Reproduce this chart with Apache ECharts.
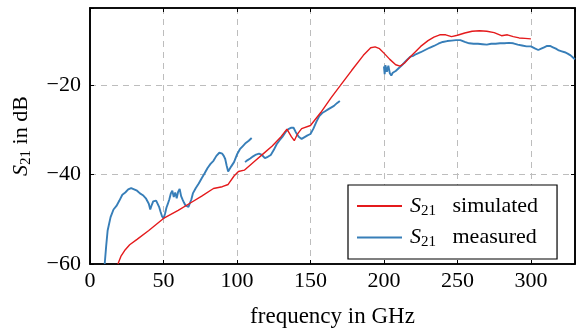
<!DOCTYPE html>
<html>
<head>
<meta charset="utf-8">
<script src="https://cdn.jsdelivr.net/npm/echarts@6/dist/echarts.min.js"></script>
<style>html,body{margin:0;padding:0;background:#fff}#c{width:583px;height:333px}</style>
</head>
<body>
<div id="c"></div>
<script>
const xTicks = [0, 50, 100, 150, 200, 250, 300];
const yTicks = [-60, -40, -20];

const simFreq = [19, 21, 24, 27, 32, 40, 50, 60, 68, 76, 84, 90, 94, 98, 101, 105, 112, 118, 124, 130, 134, 137, 139, 141, 144, 150, 157, 164, 170, 178, 186, 191, 194, 197, 200, 204, 208, 211, 214, 218, 225, 230, 234, 238, 242, 246, 250, 255, 260, 265, 270, 275, 280, 284, 288, 292, 296, 300];
const simVal = [-60, -58.3, -56.8, -55.7, -54.5, -52.5, -49.8, -48, -46.4, -44.8, -43.1, -42.7, -42.2, -40.3, -39.3, -39, -37, -35.3, -33.6, -31.5, -29.8, -31.5, -32.4, -31, -29.7, -29, -26.1, -22.8, -20.2, -16.7, -13.3, -11.6, -11.4, -11.8, -12.8, -14.2, -15.4, -15.7, -15, -13.6, -11.3, -10, -9.2, -8.7, -8.7, -9.1, -8.8, -8.3, -7.9, -7.8, -7.9, -8.2, -8.9, -8.7, -9.1, -9.4, -9.5, -9.6];

const measFreq = [
  10, 11, 12, 14, 16, 18, 20, 22, 24, 26, 28, 29, 30, 32, 34, 36, 37, 38, 39, 40, 41, 42, 43, 44, 45, 46, 47, 48, 49, 50, 51, 52, 53, 54, 55, 56, 57, 58, 59, 60, 61, 62, 63, 64, 65, 66, 67, 68, 69, 70, 72, 74, 76, 78, 80, 82, 84, 86, 88, 89, 90, 91, 92, 93, 94, 95, 96, 98, 100, 102, 104, 106, 108, 110,
  110.5,
  105.5, 107, 109, 111, 113, 115, 117, 119, 121, 123, 125, 127, 129, 131, 133, 135, 137, 138.5, 140, 142, 144, 146, 148, 150, 152, 154, 156, 158, 160, 162, 164, 166, 168, 170,
  185,
  200, 200.5, 201, 202, 203, 204, 205, 206, 208, 210, 212, 214, 216, 218, 220, 222, 225, 228, 231, 234, 237, 240, 243, 246, 249, 252, 255, 258, 261, 264, 267, 270, 273, 276, 279, 282, 285, 288, 291, 294, 297, 300, 303, 305, 307, 309, 311, 313, 315, 317, 319, 321, 323, 325, 327, 329, 330];
const measVal = [
  -60, -56, -52.5, -49.5, -47.8, -47, -45.8, -44.5, -44, -43.3, -43, -42.8, -43.3, -43.6, -44.2, -44.6, -44.3, -45.3, -45, -46.5, -47.8, -46.8, -46, -45.6, -45.8, -46.2, -47.2, -48.3, -49.3, -49.8, -48.8, -47.4, -46.5, -45.5, -44.2, -43.6, -45, -44, -45.3, -43.8, -43.2, -44.8, -45.6, -46.3, -46.9, -46.5, -47.2, -46.8, -45.5, -44.2, -43, -42, -40.8, -39.7, -38.5, -37.6, -36.9, -35.8, -35.1, -34.8, -35.3, -35.8, -36.5, -38, -39.3, -39, -38.2, -37.2, -35.5, -34.3, -33.6, -32.9, -32.4, -31.8,
  null,
  -37.2, -36.8, -36.4, -35.9, -35.5, -35.3, -35.6, -36.3, -36, -35.6, -34.5, -33.2, -32.3, -31.5, -30.5, -29.8, -29.5, -29.5, -30.5, -31.5, -32, -31.6, -31.2, -30.9, -29.7, -28.2, -26.9, -26.2, -25.8, -25.4, -25, -24.6, -24, -23.5,
  null,
  -15.8, -17.5, -15.5, -17, -15.6, -17.3, -17.8, -17.2, -16.8, -16.2, -15.6, -14.9, -14.2, -13.6, -13.4, -13, -12.6, -12.1, -11.6, -11.2, -10.7, -10.3, -10.1, -10, -9.9, -9.9, -10.3, -10.6, -10.7, -10.7, -10.8, -10.9, -10.7, -10.7, -10.6, -10.6, -10.5, -10.6, -10.9, -11.1, -11.3, -11.3, -11.8, -12.1, -11.8, -11.5, -11.2, -11.2, -11.5, -11.8, -12.2, -12.4, -12.6, -12.9, -13.3, -13.9, -14.2];

const FONT = 'Liberation Serif';
const zip = (a, b) => a.map((v, i) => [v, b[i]]);
const fmtNum = v => String(v).replace('-', '\u2212');
const rich = {
  i: { fontFamily: FONT, fontStyle: 'italic', fontSize: 22, color: '#000' },
  li: { fontFamily: FONT, fontStyle: 'italic', fontSize: 22, color: '#000', padding: [0, 0, 0, 3] },
  sub: { fontFamily: FONT, fontSize: 15, color: '#000', padding: [10, 0, 0, 0] },
  lsub: { fontFamily: FONT, fontSize: 15, color: '#000', padding: [10, 11, 0, 0] },
  t: { fontFamily: FONT, fontSize: 22, color: '#000' }
};
const tick = { show: true, inside: true, length: 4, lineStyle: { color: '#000', width: 1 } };
const frameLine = { show: true, onZero: false, lineStyle: { color: '#000', width: 1.6 } };
const grid = { type: [6, 5], color: '#bdbdbd', width: 1 };

const chart = echarts.init(document.getElementById('c'), null, { renderer: 'canvas' });
chart.setOption({
  animation: false,
  backgroundColor: '#fff',
  grid: { left: 90, right: 8, top: 8, bottom: 67, show: true, borderColor: '#000', borderWidth: 1.6, backgroundColor: 'transparent' },
  xAxis: [{
    type: 'value', min: 0, max: 330, interval: 50,
    name: 'frequency in GHz', nameLocation: 'middle', nameGap: 41,
    nameTextStyle: { fontFamily: FONT, fontSize: 23, color: '#000' },
    axisLine: frameLine, axisTick: tick,
    axisLabel: { fontFamily: FONT, fontSize: 22, color: '#000', margin: 6,
      formatter: v => xTicks.includes(v) ? fmtNum(v) : '' },
    splitLine: { show: true, showMinLine: false, showMaxLine: false, lineStyle: grid }
  }, {
    type: 'value', min: 0, max: 330, interval: 50, position: 'top',
    axisLine: frameLine, axisLabel: { show: false }, splitLine: { show: false }, axisTick: tick
  }],
  yAxis: [{
    type: 'value', min: -60, max: -2.7, interval: 20,
    name: '{i|S}{sub|21}{t| in dB}', nameLocation: 'middle', nameGap: 56, nameRotate: 90,
    nameTextStyle: { rich: rich },
    axisLine: frameLine, axisTick: tick,
    axisLabel: { fontFamily: FONT, fontSize: 22, color: '#000', margin: 9,
      formatter: v => yTicks.includes(v) ? fmtNum(v) : '' },
    splitLine: { show: true, showMinLine: false, showMaxLine: false, lineStyle: grid }
  }, {
    type: 'value', min: -60, max: -2.7, interval: 20, position: 'right',
    axisLine: frameLine, axisLabel: { show: false }, splitLine: { show: false }, axisTick: tick
  }],
  legend: {
    orient: 'vertical', left: 348, top: 185,
    padding: [10, 19, 9, 9], itemGap: 8,
    itemWidth: 45, itemHeight: 2, icon: 'rect',
    borderColor: '#000', borderWidth: 1.2, backgroundColor: '#fff',
    textStyle: { rich: rich },
    formatter: name => name === 'sim' ? '{li|S}{lsub|21}{t| simulated}' : '{li|S}{lsub|21}{t| measured}',
    data: ['sim', 'meas']
  },
  series: [{
    name: 'sim', type: 'line', symbol: 'none', data: zip(simFreq, simVal),
    lineStyle: { color: '#e41a1c', width: 1.4 }, itemStyle: { color: '#e41a1c' }, z: 3
  }, {
    name: 'meas', type: 'line', symbol: 'none', connectNulls: false, data: zip(measFreq, measVal),
    lineStyle: { color: '#377eb8', width: 1.9 }, itemStyle: { color: '#377eb8' }, z: 2
  }]
});
</script>
</body>
</html>
